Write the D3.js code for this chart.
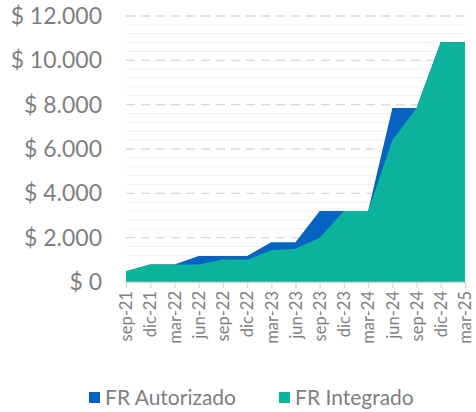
<!DOCTYPE html>
<html>
<head>
<meta charset="utf-8">
<script src="https://cdn.jsdelivr.net/npm/d3@7"></script>
<style>
  html, body { margin: 0; padding: 0; background: #fff; }
  svg text { font-family: Lato, "Open Sans", sans-serif; fill: #7f7f7f; }
</style>
</head>
<body>
<svg id="chart" width="476" height="412"></svg>
<script>
// Quarterly figures.
const periods = ["sep-21", "dic-21", "mar-22", "jun-22", "sep-22", "dic-22", "mar-23", "jun-23",
                 "sep-23", "dic-23", "mar-24", "jun-24", "sep-24", "dic-24", "mar-25"];
const autorizado = [480, 790, 790, 1170, 1170, 1170, 1790, 1790, 3200, 3200, 3200, 7850, 7850, 10830, 10830];
const integrado = [480, 790, 790, 790, 1020, 1000, 1430, 1500, 2000, 3200, 3200, 6400, 7850, 10830, 10830];
const yTicks = [0, 2000, 4000, 6000, 8000, 10000, 12000];

const BLUE = "#0563c1";
const TEAL = "#0cb39c";

const svg = d3.select("#chart");
const margin = { top: 16, right: 11, bottom: 130, left: 126 };
const width = 476 - margin.left - margin.right;
const height = 412 - margin.top - margin.bottom;

const g = svg.append("g").attr("transform", `translate(${margin.left},${margin.top})`);

const x = d3.scalePoint().domain(periods).range([0, width]);
const y = d3.scaleLinear().domain([0, 12000]).range([height, 0]);

const locale = d3.formatLocale({ decimal: ",", thousands: ".", grouping: [3], currency: ["$ ", ""] });
const money = locale.format("$,.0f");

// Minor grid every 400, major dashed every 2000.
g.append("g")
  .selectAll("line")
  .data(d3.range(400, 12000, 400).filter((v) => v % 2000 !== 0))
  .join("line")
  .attr("x1", 0).attr("x2", width)
  .attr("y1", (d) => y(d)).attr("y2", (d) => y(d))
  .attr("stroke", "#f0f0f0").attr("stroke-width", 1);

g.append("g")
  .selectAll("line")
  .data(yTicks.slice(1))
  .join("line")
  .attr("x1", 0).attr("x2", width)
  .attr("y1", (d) => y(d)).attr("y2", (d) => y(d))
  .attr("stroke", "#d9d9d9").attr("stroke-width", 1.3)
  .attr("stroke-dasharray", "9,6");

const area = (vals) => d3.area()
  .x((d, i) => x(periods[i]))
  .y0(y(0))
  .y1((d) => y(d))(vals);

g.append("path").attr("d", area(autorizado)).attr("fill", BLUE);
g.append("path").attr("d", area(integrado)).attr("fill", TEAL);

// Y axis labels.
g.append("g")
  .selectAll("text")
  .data(yTicks)
  .join("text")
  .attr("x", -24)
  .attr("y", (d) => y(d))
  .attr("dy", "0.35em")
  .attr("text-anchor", "end")
  .style("font-size", "23px")
  .text((d) => money(d));

// X axis.
const xAxis = g.append("g").attr("transform", `translate(0,${height})`)
  .call(d3.axisBottom(x).tickSize(6).tickPadding(4));
xAxis.select(".domain").attr("stroke", "#d9d9d9").attr("stroke-width", 1.3);
xAxis.selectAll(".tick line").attr("stroke", "#d9d9d9").attr("stroke-width", 1.3);
xAxis.selectAll(".tick text")
  .style("font-size", "16.5px")
  .attr("fill", "#7f7f7f")
  .attr("transform", "rotate(-90)")
  .attr("text-anchor", "end")
  .attr("x", -9)
  .attr("y", 0)
  .attr("dy", "0.35em");

// Legend.
const legend = svg.append("g").attr("transform", "translate(89,398)");
const items = [["FR Autorizado", BLUE, 0], ["FR Integrado", TEAL, 190]];
for (const [label, color, dx] of items) {
  legend.append("rect").attr("x", dx).attr("y", -6).attr("width", 11).attr("height", 11).attr("fill", color);
  legend.append("text").attr("x", dx + 16).attr("y", 0).attr("dy", "0.35em")
    .style("font-size", "21px").text(label);
}
</script>
</body>
</html>
